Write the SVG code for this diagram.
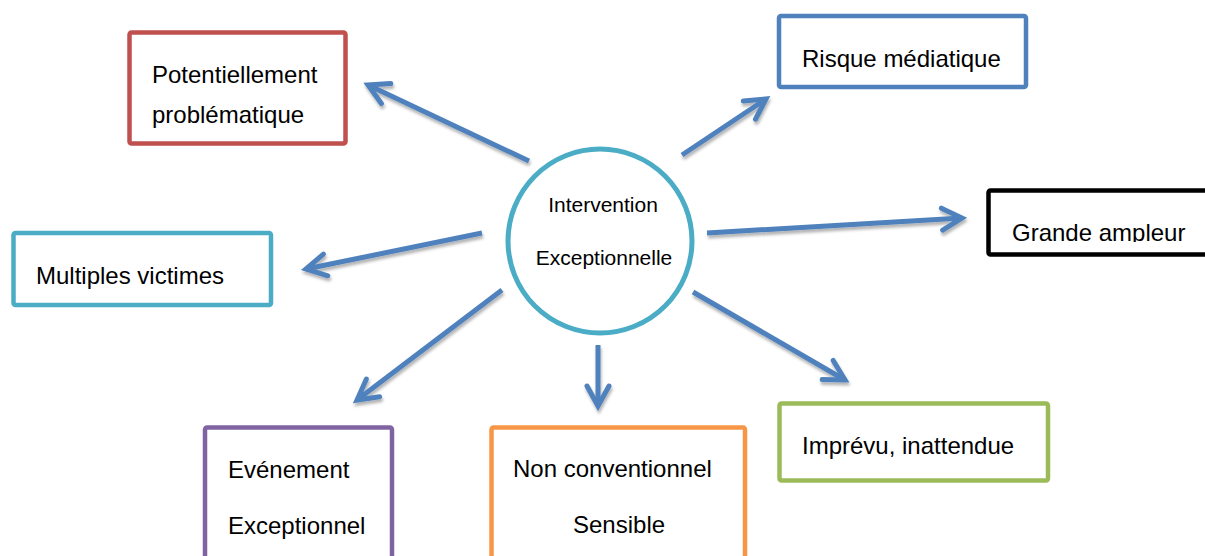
<svg xmlns="http://www.w3.org/2000/svg" width="1205" height="556" viewBox="0 0 1205 556">
<style>
.box{fill:#fff;stroke-width:4.5;}
.t{font-family:"Liberation Sans",Arial,sans-serif;font-size:24px;fill:#000;}
.tc{font-family:"Liberation Sans",Arial,sans-serif;font-size:21px;fill:#000;text-anchor:middle;}
.c{stroke:#4F81BD;stroke-width:5;fill:none;marker-end:url(#ah);}
</style>
<defs>
<marker id="ah" markerUnits="userSpaceOnUse" markerWidth="40" markerHeight="40" viewBox="-30 -20 40 40" refX="0" refY="0" orient="auto">
<path d="M-20,-11 L0,0 L-20,11" fill="none" stroke="#4F81BD" stroke-width="5" stroke-linecap="round" stroke-linejoin="miter"/>
</marker>
<filter id="sh" x="-20%" y="-20%" width="140%" height="140%">
<feDropShadow dx="1" dy="3" stdDeviation="1.5" flood-color="#000" flood-opacity="0.3"/>
</filter>
<clipPath id="clipG"><rect x="990" y="192" width="215" height="50"/></clipPath>
</defs>
<rect width="1205" height="556" fill="#fff"/>
<g id="connectors" filter="url(#sh)">
<line class="c" x1="529" y1="161" x2="368" y2="85"/>
<line class="c" x1="682" y1="155" x2="766" y2="99"/>
<line class="c" x1="707" y1="233" x2="962" y2="218"/>
<line class="c" x1="482" y1="233" x2="306" y2="269"/>
<line class="c" x1="502" y1="290" x2="357" y2="400"/>
<line class="c" x1="598" y1="345" x2="598" y2="406"/>
<line class="c" x1="693" y1="292" x2="845" y2="380"/>
</g>
<g id="center">
<circle cx="600" cy="241" r="92" fill="#fff" stroke="#4BACC6" stroke-width="5"/>
<text class="tc" x="603" y="212">Intervention</text>
<text class="tc" x="604" y="265">Exceptionnelle</text>
</g>
<g id="potentiellement">
<rect class="box" x="129.5" y="32.5" width="216" height="111" rx="2" stroke="#C0504D"/>
<text class="t" x="152" y="83">Potentiellement</text>
<text class="t" x="152" y="123">problématique</text>
</g>
<g id="risque">
<rect class="box" x="779" y="16" width="247" height="71" rx="2" stroke="#4F81BD"/>
<text class="t" x="802" y="67">Risque médiatique</text>
</g>
<g id="grande">
<rect class="box" x="988.5" y="190.5" width="240" height="64" rx="2" stroke="#000" stroke-width="5"/>
<text class="t" x="1012" y="241" clip-path="url(#clipG)">Grande ampleur</text>
</g>
<g id="multiples">
<rect class="box" x="13.5" y="233" width="257.5" height="72" rx="2" stroke="#4BACC6"/>
<text class="t" x="36" y="284">Multiples victimes</text>
</g>
<g id="evenement">
<rect class="box" x="205" y="427.5" width="187" height="140" rx="2" stroke="#8064A2"/>
<text class="t" x="228" y="478">Evénement</text>
<text class="t" x="228" y="534">Exceptionnel</text>
</g>
<g id="nonconventionnel">
<rect class="box" x="491.5" y="427.5" width="253.5" height="140" rx="2" stroke="#F79646"/>
<text class="t" x="513" y="477">Non conventionnel</text>
<text class="t" x="573" y="533">Sensible</text>
</g>
<g id="imprevu">
<rect class="box" x="779.5" y="403.5" width="268.5" height="77" rx="2" stroke="#9BBB59"/>
<text class="t" x="802" y="454">Imprévu, inattendue</text>
</g>
</svg>
